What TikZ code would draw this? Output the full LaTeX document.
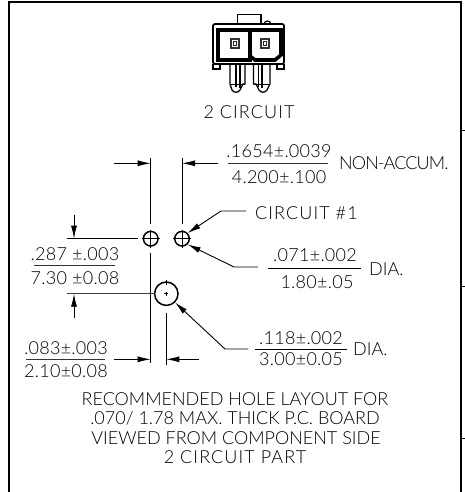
\documentclass[tikz,border=0pt]{standalone}
\usepackage{fontspec}
\setmainfont{Lato Light}
\usetikzlibrary{arrows.meta,calc}
\tikzset{
  x=1pt,y=-1pt,
  frame/.style={line width=1.8pt,black},
  thin line/.style={line width=0.8pt,black},
  ext/.style={line width=1pt,black},
  heavy/.style={line width=3.6pt,black,line join=miter},
  lead/.style={line width=0.9pt,black,-{Latex[length=13pt,width=6pt]}},
  hole/.style={circle,draw=black,line width=1.5pt,minimum size=#1,inner sep=0pt},
  txt/.style={inner sep=0pt,font=\fontsize{18}{18}\selectfont\addfontfeature{LetterSpace=1.5},text=black},
  big/.style={inner sep=0pt,font=\fontsize{18}{18}\selectfont,text=black},
  wide/.style={inner sep=0pt,font=\fontsize{18}{18}\selectfont\addfontfeature{LetterSpace=6},text=black},
  tight/.style={inner sep=0pt,font=\fontsize{18}{18}\selectfont\addfontfeature{LetterSpace=-5},text=black},
  pin/.style={line width=1.3pt,black},
}
\begin{document}
\begin{tikzpicture}
\useasboundingbox (0,0) rectangle (465,492);
% frame
\coordinate (fTL) at (9,2); \coordinate (fTR) at (461,2);
\coordinate (fBL) at (9,492); \coordinate (fBR) at (461,492);
\draw[frame] (fBL) -- (fTL) -- (fTR) -- (fBR);
\foreach \yy in {130,286,438}{\draw[line width=1pt] (461,\yy) -- (465,\yy);}
% connector top view
\draw[line width=1.2pt] (237.7,24) -- (237.7,14.5) -- (261,14.5) -- (261,24);
\draw[line width=1.2pt] (264,24) .. controls (265,20) and (270,20) .. (271,24);
\draw[line width=1.8pt,rounded corners=2pt] (213,64) -- (213,24) -- (284,24) -- (284,64) -- cycle;
\draw[line width=1.2pt] (213,64) -- (213,69) -- (220,69) -- (220,64);
\draw[line width=1.2pt] (277,64) -- (277,69) -- (284,69) -- (284,64);
\draw[heavy] (218,30) rectangle (250,60);
\draw[heavy] (250,30) -- (281,30) -- (281,55) -- (275,60) -- (255,60) -- (250,56);
\foreach \cx in {235,265}{
  \fill[black!80] (\cx-5,38) rectangle (\cx+5,49);
  \fill[white] (\cx-3,40) rectangle (\cx+3,47);
  \draw[line width=1.1pt,black!85] (\cx-1.6,41.6) rectangle (\cx+1.6,45.4);
}
% left pin
\draw[pin] (230,64) -- (230,84) -- (232,90) .. controls (234,93) and (238,93) .. (240,90) -- (243,84) -- (245,84) -- (245,64);
\draw[pin] (236,64) -- (236,87);
\draw[pin] (240,64) -- (240,88);
\draw[line width=0.9pt] (230,84) -- (245,84);
% right pin
\draw[pin] (253.5,64) -- (253.5,84) -- (256,84) -- (259,90) .. controls (261,93) and (265,93) .. (267,90) -- (270,84) -- (270,64);
\draw[pin] (258.5,64) -- (258.5,87);
\draw[pin] (262,64) -- (262,88);
\draw[line width=0.9pt] (253.5,84) -- (270,84);
\node[wide] (cap) at (249,112) {2 CIRCUIT};
% holes
\node[hole=14.6pt] (h1) at (150.7,238.7) {};
\node[hole=14.6pt] (h2) at (182,238.7) {};
\node[hole=23.4pt] (h3) at (166.3,293.7) {};
\draw[thin line] (h1.center) ++(-9,0) -- ++(18,0);
\draw[thin line] (h1.center) ++(0,-9) -- ++(0,18);
\draw[thin line] (h2.center) ++(-9,0) -- ++(18,0);
\draw[thin line] (h2.center) ++(0,-9) -- ++(0,18);
\draw[line width=0.5pt] (h3.center) ++(-2,0) -- ++(4,0);
\draw[line width=0.5pt] (h3.center) ++(0,-2) -- ++(0,4);
\draw[thin line] (166.3,280) -- (166.3,285);
% extension lines
\coordinate (e1a) at (150.7,158); \coordinate (e1b) at (150.7,224);
\coordinate (e1c) at (150.7,252.7); \coordinate (e1d) at (150.7,363);
\coordinate (e2a) at (182,158); \coordinate (e2b) at (182,224);
\coordinate (e3a) at (166.3,312.7); \coordinate (e3b) at (166.3,365);
\draw[ext] (e1a) -- (e1b); \draw[ext] (e1c) -- (e1d);
\draw[ext] (e2a) -- (e2b); \draw[ext] (e3a) -- (e3b);
\draw[ext] (66.7,238.7) -- (138.3,238.7);
\draw[ext,black!75] (66.7,293.7) -- (155,293.7);
% dimension arrows
\coordinate (d1) at (114,163.3); \coordinate (d2) at (218,163.3);
\coordinate (d3) at (114,359.3); \coordinate (d4) at (199,359.3);
\coordinate (d5) at (74,215); \coordinate (d6) at (74,318);
\draw[lead] (d1) -- (150.7,163.3);
\draw[lead] (d2) -- (182,163.3);
\draw[lead] (d3) -- (150.7,359.3);
\draw[lead] (d4) -- (166.3,359.3);
\draw[lead] (d5) -- (74,238.7);
\draw[lead] (d6) -- (74,293.7);
% leaders
\coordinate (l1e) at (246,211); \coordinate (l1k) at (221,211);
\coordinate (l2e) at (258,267); \coordinate (l2k) at (234,267);
\coordinate (l3e) at (248,349); \coordinate (l3k) at (225,349);
\draw[lead] (l1e) -- (l1k) -- (h2.north east);
\draw[lead] (l2e) -- (l2k) -- (h2.south east);
\draw[lead] (l3e) -- (l3k) -- (h3.south east);
% fraction rules
\draw[ext,black!80] (228,163.3) -- (328,163.3);
\draw[ext,black!80] (34,265.3) -- (115,265.3);
\draw[ext,black!80] (26,359.3) -- (105,359.3);
\draw[ext] (268,268.3) -- (361,268.3);
\draw[ext] (255,349) -- (347,349);
% labels
\node[txt] (t1) at (279,151) {.1654±.0039};
\node[txt] (t2) at (279,177.5) {4.200±.100};
\node[tight,anchor=west] (t3) at (339,163) {NON-ACCUM.};
\node[wide,anchor=west] (t4) at (255,213) {CIRCUIT \#1};
\node[txt] (t5) at (315,255) {.071±.002};
\node[txt] (t6) at (317,282) {1.80±.05};
\node[big,anchor=west] (t7) at (369,269) {DIA.};
\node[txt] (t8) at (301,338) {.118±.002};
\node[txt] (t9) at (301,359.5) {3.00±0.05};
\node[big,anchor=west] (t10) at (353,349) {DIA.};
\node[txt] (t11) at (75,254) {.287 ±.003};
\node[txt] (t12) at (75,278) {7.30 ±0.08};
\node[txt] (t13) at (66,348) {.083±.003};
\node[txt] (t14) at (66,371) {2.10±0.08};
\node[big] (b1) at (235,399) {RECOMMENDED HOLE LAYOUT FOR};
\node[big] (b2) at (235,418) {.070/ 1.78 MAX. THICK P.C. BOARD};
\node[big] (b3) at (236,438) {VIEWED FROM COMPONENT SIDE};
\node[wide] (b4) at (235,457) {2 CIRCUIT PART};
\end{tikzpicture}
\end{document}
